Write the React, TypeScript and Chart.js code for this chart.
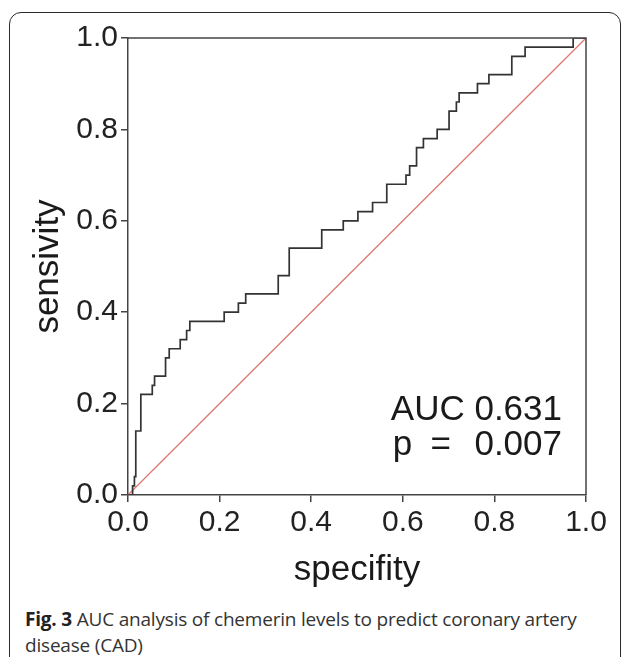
import React, { useEffect, useRef } from 'react';
import { Chart, registerables } from 'chart.js';

Chart.register(...registerables);

// ROC curve corner points (stepped: horizontal then vertical)
const rocX = [0, 0.01, 0.014, 0.017, 0.028, 0.053, 0.058, 0.082, 0.09, 0.114, 0.128, 0.135, 0.21, 0.241, 0.257, 0.328, 0.352, 0.423, 0.47, 0.502, 0.534, 0.565, 0.607, 0.615, 0.63, 0.645, 0.675, 0.701, 0.717, 0.723, 0.763, 0.788, 0.838, 0.867, 0.972, 1.0];
const rocY = [0, 0.02, 0.04, 0.14, 0.22, 0.24, 0.26, 0.30, 0.32, 0.34, 0.36, 0.38, 0.40, 0.42, 0.44, 0.48, 0.54, 0.58, 0.60, 0.62, 0.64, 0.68, 0.70, 0.72, 0.76, 0.78, 0.80, 0.84, 0.86, 0.88, 0.90, 0.92, 0.96, 0.98, 1.0, 1.0];
// reference diagonal
const refX = [0, 1];
const refY = [0, 1];
const tickValues = [0, 0.2, 0.4, 0.6, 0.8, 1.0];
const xTitle = 'specifity';
const yTitle = 'sensivity';
const aucLabel = 'AUC 0.631';
const pLabel = 'p';
const pEq = '=';
const pValue = '0.007';
const captionBold = 'Fig. 3';
const captionLine1 = 'AUC analysis of chemerin levels to predict coronary artery';
const captionLine2 = 'disease (CAD)';

const FONT = "'Liberation Sans', Arial, sans-serif";

const framePlugin = {
  id: 'frameAndText',
  afterDatasetsDraw(chart: any) {
    const { ctx, chartArea } = chart;
    const { left, right, top, bottom } = chartArea;
    const w = right - left;
    const h = bottom - top;
    ctx.save();
    ctx.strokeStyle = '#444';
    ctx.lineWidth = 1.5;
    ctx.beginPath();
    ctx.moveTo(left, top);
    ctx.lineTo(right, top);
    ctx.lineTo(right, bottom);
    ctx.stroke();

    ctx.fillStyle = '#1a1a1a';
    ctx.font = `35px ${FONT}`;
    ctx.textBaseline = 'alphabetic';
    ctx.textAlign = 'right';
    ctx.fillText(aucLabel, left + 0.9476 * w, top + 0.836 * h);
    ctx.fillText(pValue, left + 0.9476 * w, top + 0.912 * h);
    ctx.textAlign = 'left';
    ctx.fillText(pLabel, left + 0.578 * w, top + 0.912 * h);
    ctx.textAlign = 'center';
    ctx.fillText(pEq, left + 0.683 * w, top + 0.912 * h);
    ctx.restore();
  },
};

export default function App() {
  const ref = useRef<HTMLCanvasElement>(null);

  useEffect(() => {
    if (!ref.current) return;
    const chart = new Chart(ref.current, {
      type: 'scatter',
      data: {
        datasets: [
          {
            data: refX.map((x, i) => ({ x, y: refY[i] })),
            showLine: true,
            borderColor: '#dd7772',
            borderWidth: 1.3,
            pointRadius: 0,
            order: 2,
          },
          {
            data: rocX.map((x, i) => ({ x, y: rocY[i] })),
            showLine: true,
            stepped: 'before',
            borderColor: '#333',
            borderWidth: 1.7,
            pointRadius: 0,
            order: 1,
          },
        ],
      },
      options: {
        responsive: false,
        animation: false,
        devicePixelRatio: 1,
        layout: { padding: { left: 0, right: 43, top: 38, bottom: 0 } },
        plugins: { legend: { display: false }, tooltip: { enabled: false } },
        scales: {
          x: {
            type: 'linear',
            min: 0,
            max: 1,
            afterBuildTicks: (s: any) => { s.ticks = tickValues.map((v) => ({ value: v })); },
            afterFit: (s: any) => { s.height = 105; },
            ticks: {
              color: '#222',
              font: { family: FONT, size: 30 },
              padding: 3,
              maxRotation: 0,
              callback: (v: any) => Number(v).toFixed(1),
            },
            grid: { drawOnChartArea: false, drawTicks: true, tickLength: 7, color: '#444', lineWidth: 1.5 },
            border: { display: true, color: '#444', width: 1.5 },
            title: {
              display: true,
              text: xTitle,
              color: '#1a1a1a',
              font: { family: FONT, size: 35 },
              padding: { top: 0, bottom: 9 },
            },
          },
          y: {
            type: 'linear',
            min: 0,
            max: 1,
            afterBuildTicks: (s: any) => { s.ticks = tickValues.map((v) => ({ value: v })); },
            afterFit: (s: any) => { s.width = 128; },
            ticks: {
              color: '#222',
              font: { family: FONT, size: 30 },
              padding: 3,
              callback: (v: any) => Number(v).toFixed(1),
            },
            grid: { drawOnChartArea: false, drawTicks: true, tickLength: 7, color: '#444', lineWidth: 1.5 },
            border: { display: true, color: '#444', width: 1.5 },
            title: {
              display: true,
              text: yTitle,
              color: '#1a1a1a',
              font: { family: FONT, size: 35 },
              padding: { top: 27, bottom: 0 },
            },
          },
        },
      },
      plugins: [framePlugin],
    } as any);
    return () => chart.destroy();
  }, []);

  return (
    <div style={{ position: 'absolute', left: 0, top: 0, width: 629, height: 657, overflow: 'hidden', background: '#fff' }}>
      <div
        style={{
          position: 'absolute',
          left: 9,
          top: 12,
          width: 610,
          height: 660,
          border: '1.5px solid #2a2a2a',
          borderRadius: 12,
        }}
      />
      <canvas ref={ref} width={629} height={600} style={{ position: 'absolute', left: 0, top: 0, width: 629, height: 600 }} />
      <div
        style={{
          position: 'absolute',
          left: 25,
          top: 606,
          width: 600,
          whiteSpace: 'nowrap',
          fontFamily: "'Open Sans', 'Noto Sans', sans-serif",
          fontSize: 19,
          letterSpacing: '-0.2px',
          lineHeight: '26px',
          color: '#333',
        }}
      >
        <b style={{ color: '#222' }}>{captionBold}</b> {captionLine1}
        <br />
        {captionLine2}
      </div>
    </div>
  );
}
